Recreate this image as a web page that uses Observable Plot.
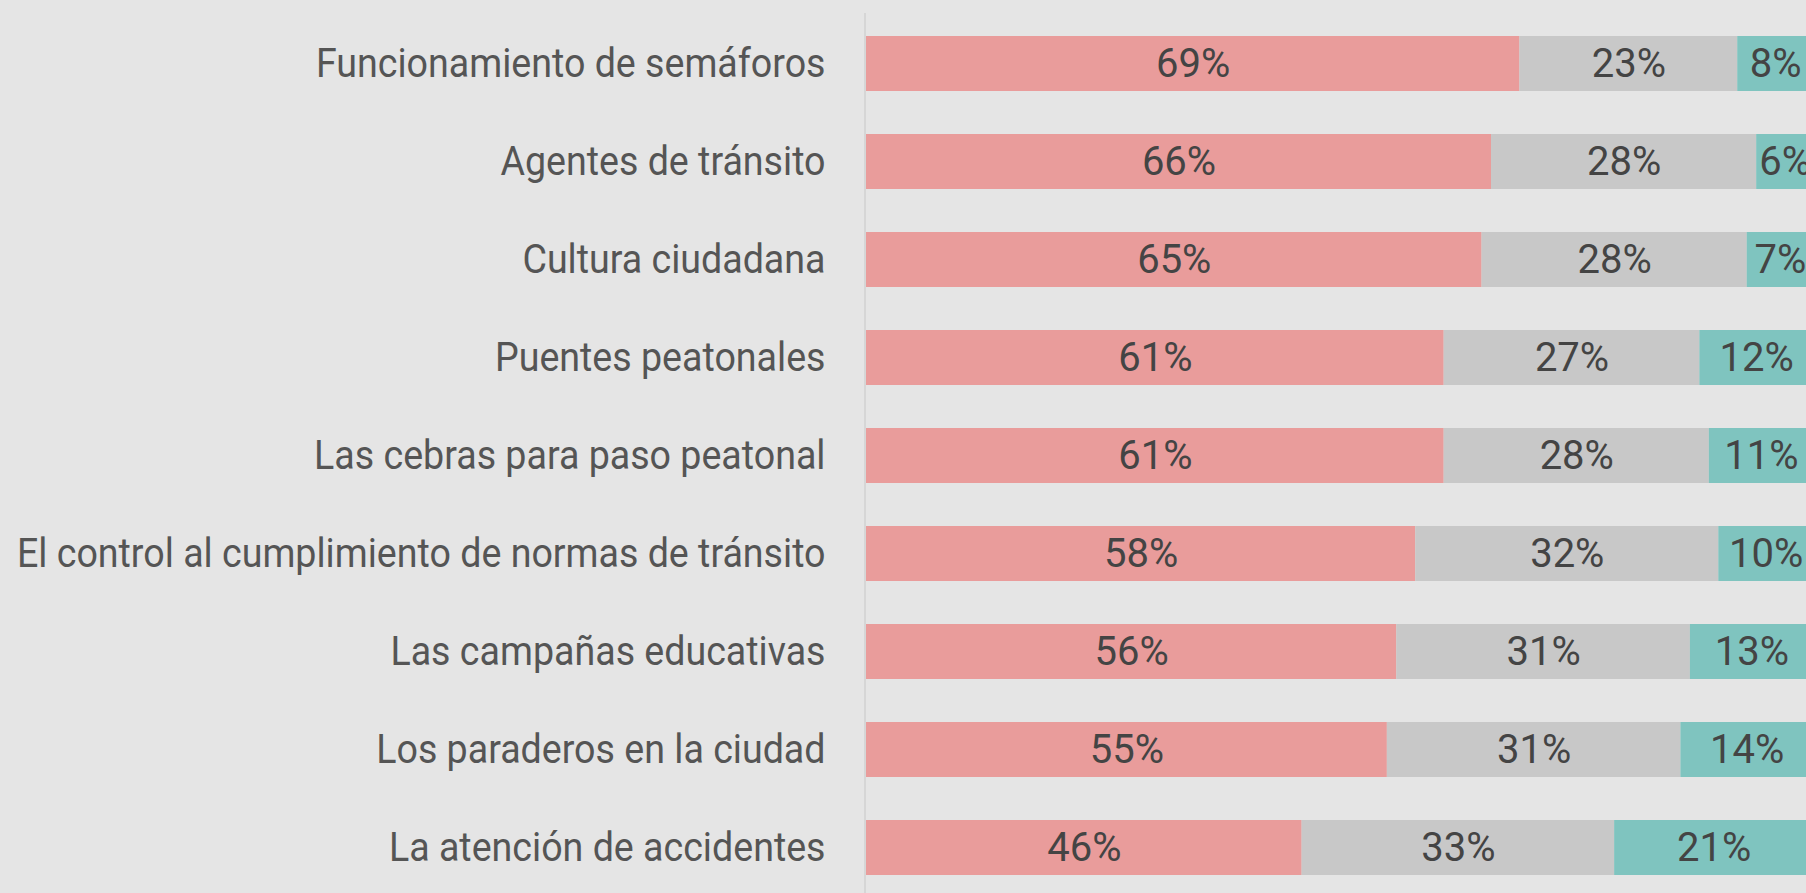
<!DOCTYPE html>
<html>
<head>
<meta charset="utf-8">
<script src="https://cdn.jsdelivr.net/npm/d3@7"></script>
<script src="https://cdn.jsdelivr.net/npm/@observablehq/plot@0.6"></script>
<style>
html, body { margin: 0; padding: 0; background: #e5e5e5; overflow: hidden; }
#chart svg { display: block; max-width: none !important; }
</style>
</head>
<body>
<div id="chart"></div>
<script>
const categories = [
  "Funcionamiento de semáforos",
  "Agentes de tránsito",
  "Cultura ciudadana",
  "Puentes peatonales",
  "Las cebras para paso peatonal",
  "El control al cumplimiento de normas de tránsito",
  "Las campañas educativas",
  "Los paraderos en la ciudad",
  "La atención de accidentes"
];
const seriesNames = ["Malo", "Regular", "Bueno"];
const seriesColors = ["#e99c9b", "#c8c8c8", "#7fc4bf"];
const malo    = [69, 66, 65, 61, 61, 58, 56, 55, 46];
const regular = [23, 28, 28, 27, 28, 32, 31, 31, 33];
const bueno   = [8, 6, 7, 12, 11, 10, 13, 14, 21];

const seriesValues = [malo, regular, bueno];
const rows = categories.flatMap((c, i) =>
  seriesNames.map((s, j) => ({cat: c, serie: s, value: seriesValues[j][i]}))
);

const chart = Plot.plot({
  width: 1813,
  height: 898,
  marginLeft: 866,
  marginRight: 0,
  marginTop: 13,
  marginBottom: 0,
  style: {background: "#e5e5e5", fontFamily: "Roboto", fontSize: "40px", overflow: "visible"},
  x: {domain: [0, 100], axis: null},
  y: {domain: categories, paddingInner: 0.442, paddingOuter: 0.213, axis: null},
  color: {domain: seriesNames, range: seriesColors},
  marks: [
    Plot.ruleX([0], {stroke: "#d6d6d6", strokeWidth: 2, dx: -1.5}),
    Plot.barX(rows, Plot.stackX({x: "value", y: "cat", fill: "serie"})),
    Plot.text(rows, Plot.stackX({x: "value", y: "cat", z: "serie", text: d => d.value + "%", fill: "#444", fontSize: 40})),
    Plot.axisY({tickSize: 0, tickPadding: 41, fontSize: 40, fill: "#555", label: null})
  ]
});

document.getElementById("chart").appendChild(chart);

// condensed look for the category labels: compress glyphs horizontally around the anchor
chart.querySelectorAll('g[aria-label="y-axis tick label"] text').forEach(t => {
  const tr = t.getAttribute("transform") || "";
  t.setAttribute("transform", tr + " scale(0.94,1)");
});
</script>
</body>
</html>
